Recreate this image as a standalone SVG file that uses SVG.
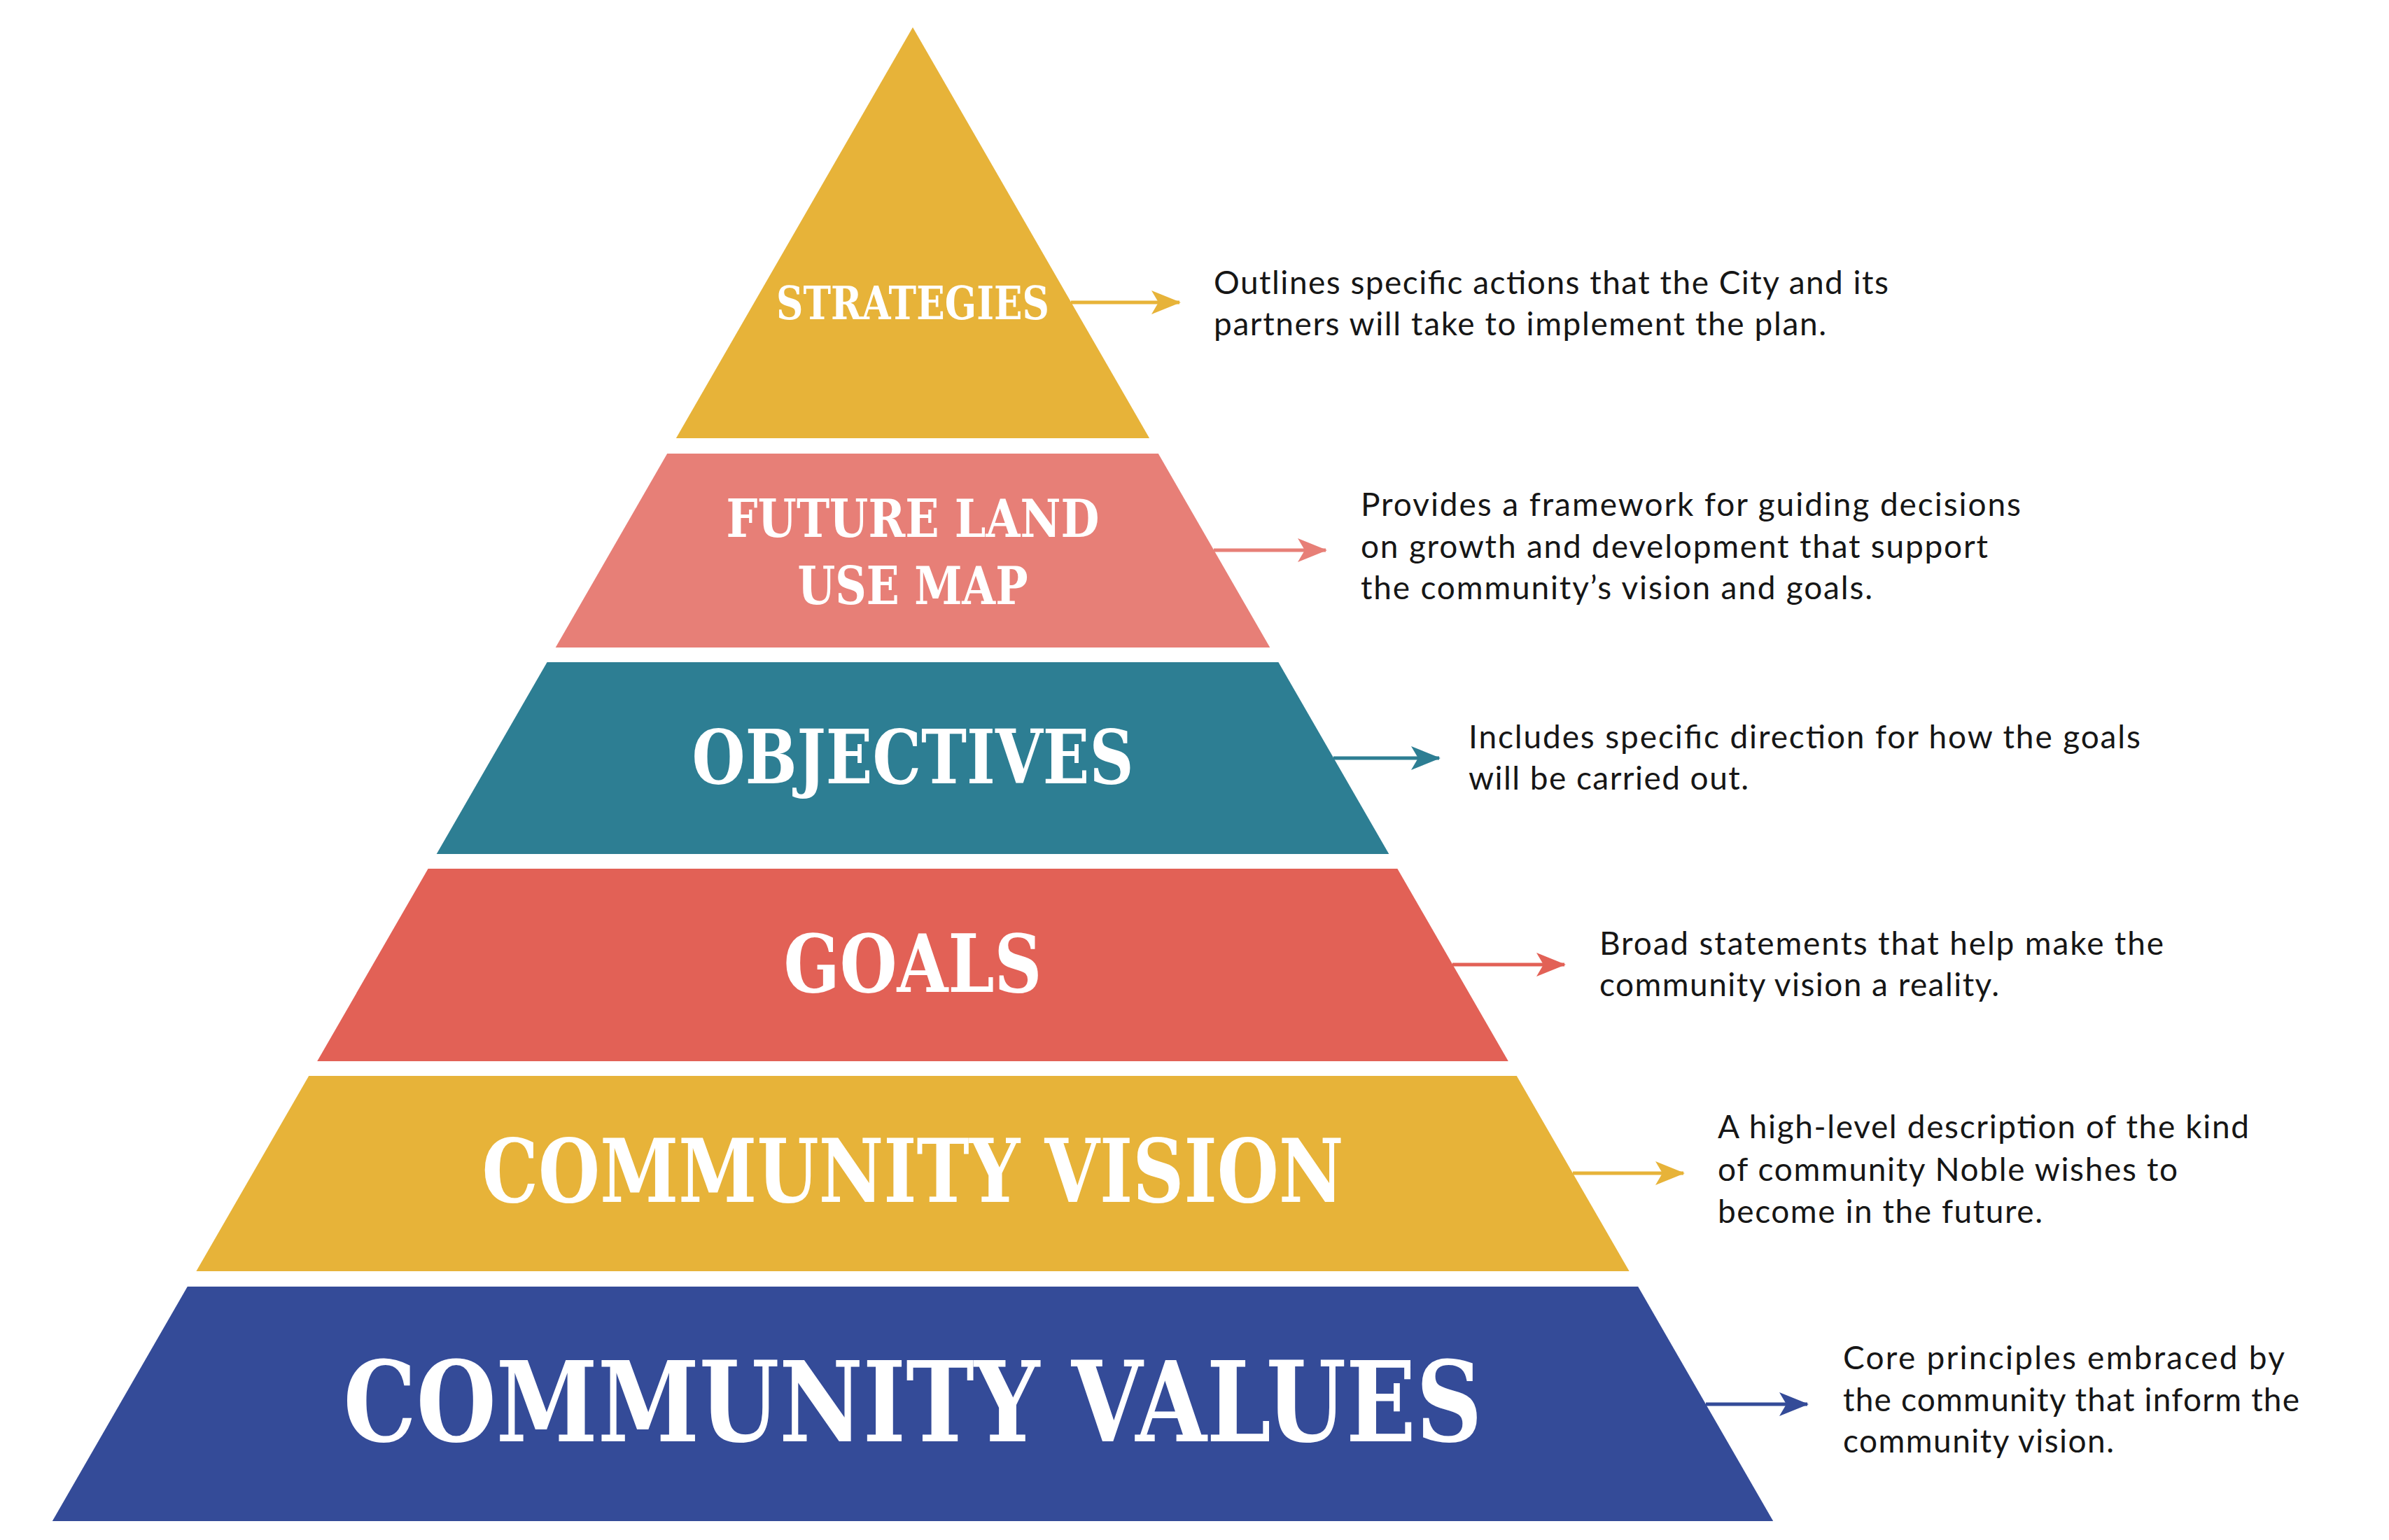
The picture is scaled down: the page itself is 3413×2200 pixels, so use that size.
<svg xmlns="http://www.w3.org/2000/svg" width="3413" height="2200" viewBox="0 0 3413 2200">
<style>
.lbl{font-family:"DejaVu Serif","Liberation Serif",serif;font-weight:bold;fill:#ffffff;text-anchor:middle;}
.desc{font-family:Lato,"Open Sans","Liberation Sans",sans-serif;font-size:46px;fill:#161616;}
.yel{fill:#E7B339;}
.pnk{fill:#E77F77;}
.tea{fill:#2D7E93;}
.red{fill:#E26156;}
.blu{fill:#344B98;}
.conn line{stroke-width:5;fill:none;}
</style>
<defs>
<marker id="ah-yel" viewBox="0 0 42 34" refX="40" refY="17" markerWidth="42" markerHeight="34" markerUnits="userSpaceOnUse" orient="auto"><path d="M0,0 L42,17 L0,34 L10,17 Z" fill="#E7B339"/></marker>
<marker id="ah-pnk" viewBox="0 0 42 34" refX="40" refY="17" markerWidth="42" markerHeight="34" markerUnits="userSpaceOnUse" orient="auto"><path d="M0,0 L42,17 L0,34 L10,17 Z" fill="#E77F77"/></marker>
<marker id="ah-tea" viewBox="0 0 42 34" refX="40" refY="17" markerWidth="42" markerHeight="34" markerUnits="userSpaceOnUse" orient="auto"><path d="M0,0 L42,17 L0,34 L10,17 Z" fill="#2D7E93"/></marker>
<marker id="ah-red" viewBox="0 0 42 34" refX="40" refY="17" markerWidth="42" markerHeight="34" markerUnits="userSpaceOnUse" orient="auto"><path d="M0,0 L42,17 L0,34 L10,17 Z" fill="#E26156"/></marker>
<marker id="ah-blu" viewBox="0 0 42 34" refX="40" refY="17" markerWidth="42" markerHeight="34" markerUnits="userSpaceOnUse" orient="auto"><path d="M0,0 L42,17 L0,34 L10,17 Z" fill="#344B98"/></marker>
</defs>
<rect x="0" y="0" width="3413" height="2200" fill="#ffffff"/>

<g id="strategies">
<polygon class="yel" points="1304,39 1642.1,626 965.9,626"/>
<text class="lbl" x="1304" y="456" font-size="66" textLength="390" lengthAdjust="spacingAndGlyphs">STRATEGIES</text>
<text class="desc" x="1734" y="420" textLength="964" lengthAdjust="spacing">Outlines specific actions that the City and its</text>
<text class="desc" x="1734" y="479" textLength="875" lengthAdjust="spacing">partners will take to implement the plan.</text>
</g>

<g id="future-land-use-map">
<polygon class="pnk" points="953.2,648 1654.8,648 1814.3,925 793.7,925"/>
<text class="lbl" x="1304" y="767" font-size="74" textLength="533" lengthAdjust="spacingAndGlyphs">FUTURE LAND</text>
<text class="lbl" x="1304" y="863" font-size="74" textLength="329" lengthAdjust="spacingAndGlyphs">USE MAP</text>
<text class="desc" x="1944" y="737" textLength="943" lengthAdjust="spacing">Provides a framework for guiding decisions</text>
<text class="desc" x="1944" y="797" textLength="896" lengthAdjust="spacing">on growth and development that support</text>
<text class="desc" x="1944" y="856" textLength="731" lengthAdjust="spacing">the community’s vision and goals.</text>
</g>

<g id="objectives">
<polygon class="tea" points="781.6,946 1826.4,946 1984.3,1220 623.7,1220"/>
<text class="lbl" x="1304" y="1119" font-size="106" textLength="631" lengthAdjust="spacingAndGlyphs">OBJECTIVES</text>
<text class="desc" x="2098" y="1069" textLength="960" lengthAdjust="spacing">Includes specific direction for how the goals</text>
<text class="desc" x="2098" y="1128" textLength="400" lengthAdjust="spacing">will be carried out.</text>
</g>

<g id="goals">
<polygon class="red" points="611.6,1241 1996.4,1241 2154.8,1516 453.2,1516"/>
<text class="lbl" x="1304" y="1417" font-size="115" textLength="369" lengthAdjust="spacingAndGlyphs">GOALS</text>
<text class="desc" x="2285" y="1364" textLength="806" lengthAdjust="spacing">Broad statements that help make the</text>
<text class="desc" x="2285" y="1423" textLength="571" lengthAdjust="spacing">community vision a reality.</text>
</g>

<g id="community-vision">
<polygon class="yel" points="441.2,1537 2166.8,1537 2327.6,1816 280.4,1816"/>
<text class="lbl" x="1304" y="1717" font-size="125" textLength="1231" lengthAdjust="spacingAndGlyphs">COMMUNITY VISION</text>
<text class="desc" x="2454" y="1626" textLength="759" lengthAdjust="spacing">A high-level description of the kind</text>
<text class="desc" x="2454" y="1687" textLength="657" lengthAdjust="spacing">of community Noble wishes to</text>
<text class="desc" x="2454" y="1747" textLength="464" lengthAdjust="spacing">become in the future.</text>
</g>

<g id="community-values">
<polygon class="blu" points="267.8,1838 2340.2,1838 2533.2,2173 74.8,2173"/>
<text class="lbl" x="1304" y="2059" font-size="159" textLength="1627" lengthAdjust="spacingAndGlyphs">COMMUNITY VALUES</text>
<text class="desc" x="2633" y="1956" textLength="631" lengthAdjust="spacing">Core principles embraced by</text>
<text class="desc" x="2633" y="2016" textLength="652" lengthAdjust="spacing">the community that inform the</text>
<text class="desc" x="2633" y="2075" textLength="387" lengthAdjust="spacing">community vision.</text>
</g>

<g id="connectors" class="conn">
<line x1="1530" y1="432" x2="1685" y2="432" stroke="#E7B339" marker-end="url(#ah-yel)"/>
<line x1="1734" y1="786" x2="1894" y2="786" stroke="#E77F77" marker-end="url(#ah-pnk)"/>
<line x1="1905" y1="1083" x2="2056" y2="1083" stroke="#2D7E93" marker-end="url(#ah-tea)"/>
<line x1="2075" y1="1378" x2="2235" y2="1378" stroke="#E26156" marker-end="url(#ah-red)"/>
<line x1="2247" y1="1676" x2="2405" y2="1676" stroke="#E7B339" marker-end="url(#ah-yel)"/>
<line x1="2437" y1="2006" x2="2582" y2="2006" stroke="#344B98" marker-end="url(#ah-blu)"/>
</g>
</svg>
